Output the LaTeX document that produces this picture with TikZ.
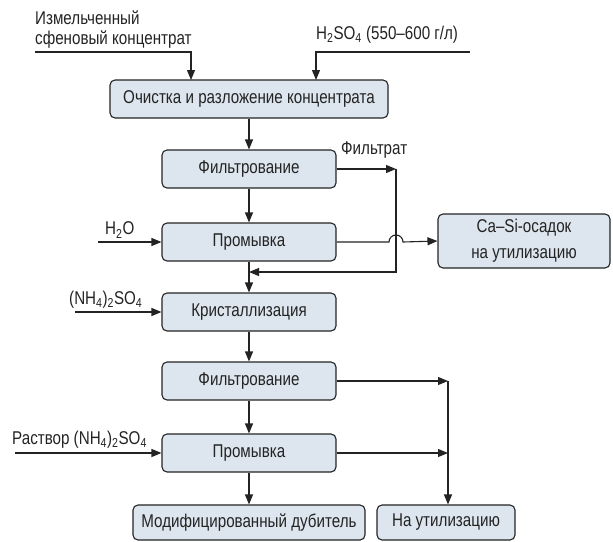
\documentclass[tikz,border=0pt]{standalone}
\usepackage{fontspec}
\setmainfont{Liberation Sans}[FakeStretch=0.82]
\usetikzlibrary{arrows.meta}
\definecolor{boxfill}{RGB}{221,230,238}
\definecolor{ink}{RGB}{35,35,35}
\newcommand\mainfs{\fontsize{18.5}{20}\selectfont}
\begin{document}
\begin{tikzpicture}[x=1pt,y=-1pt,
  box/.style={draw=ink, fill=boxfill, rounded corners=5pt, line width=1.1pt, inner sep=0pt, align=center, font=\mainfs, text=ink, minimum height=38pt, minimum width=174pt},
  flow/.style={draw=ink, line width=1.1pt, -{Triangle[length=10pt,width=8pt]}},
  lbl/.style={inner sep=0pt, font=\mainfs, text=ink, align=left}]
\useasboundingbox (0,0) rectangle (613,541);
\node[box, minimum width=278pt] (b1) at (249,99) {Очистка и разложение концентрата};
\node[box] (f1) at (249,169) {Фильтрование};
\node[box] (p1) at (249,242) {Промывка};
\node[box] (k) at (249,312) {Кристаллизация};
\node[box] (f2) at (249,381) {Фильтрование};
\node[box] (p2) at (249,453) {Промывка};
\node[box, minimum width=232pt, minimum height=35pt] (m) at (249,522.5) {Модифицированный дубитель};
\node[box, minimum width=138pt, minimum height=35pt] (u) at (446,522.5) {На утилизацию};
\node[box, minimum width=172pt, minimum height=54pt] (ca) at (524,241) {Ca–Si-осадок\\[6pt]на утилизацию};

\node[lbl, anchor=west] (t1) at (35,30) {Измельченный\\сфеновый концентрат};
\node[lbl, anchor=west] (t2) at (316,35) {H\textsubscript{2}SO\textsubscript{4} (550–600 г/л)};
\node[lbl, anchor=west] (t3) at (105,230) {H\textsubscript{2}O};
\node[lbl, anchor=west] (t4) at (69,300) {(NH\textsubscript{4})\textsubscript{2}SO\textsubscript{4}};
\node[lbl, anchor=west] (t5) at (12,440) {Раствор (NH\textsubscript{4})\textsubscript{2}SO\textsubscript{4}};
\node[lbl, anchor=west] (t6) at (341,150) {Фильтрат};

\coordinate (s1) at (35,52);
\coordinate (a1) at (191,80);
\coordinate (s2) at (470,52);
\coordinate (a2) at (316,80);
\draw[flow] (s1) -| (a1);
\draw[flow] (s2) -| (a2);

\coordinate (h) at (98,242);
\coordinate (n) at (75,312);
\coordinate (r) at (15,453);
\draw[flow] (h) -- (p1.west);
\draw[flow] (n) -- (k.west);
\draw[flow] (r) -- (p2.west);

\draw[flow] (b1.south) -- (f1.north);
\draw[flow] (f1.south) -- (p1.north);
\draw[flow] (p1.south) -- (k.north);
\draw[flow] (k.south) -- (f2.north);
\draw[flow] (f2.south) -- (p2.north);
\draw[flow] (p2.south) -- (m.north);

\coordinate (j1) at (396,169);
\coordinate (j1b) at (396,272);
\draw[flow] (f1.east) -- (j1);
\draw[flow] (j1) -- (j1b) -- (p1.south |- j1b);
\draw[flow] (p1.east) -- (389,242) arc[start angle=180, end angle=0, radius=7pt] -- (ca.west);

\coordinate (j2) at (448,381);
\coordinate (j3) at (448,453);
\draw[flow] (f2.east) -- (j2);
\draw[flow] (p2.east) -- (j3);
\draw[flow] (j2) -- (j2 |- u.north);
\end{tikzpicture}
\end{document}
